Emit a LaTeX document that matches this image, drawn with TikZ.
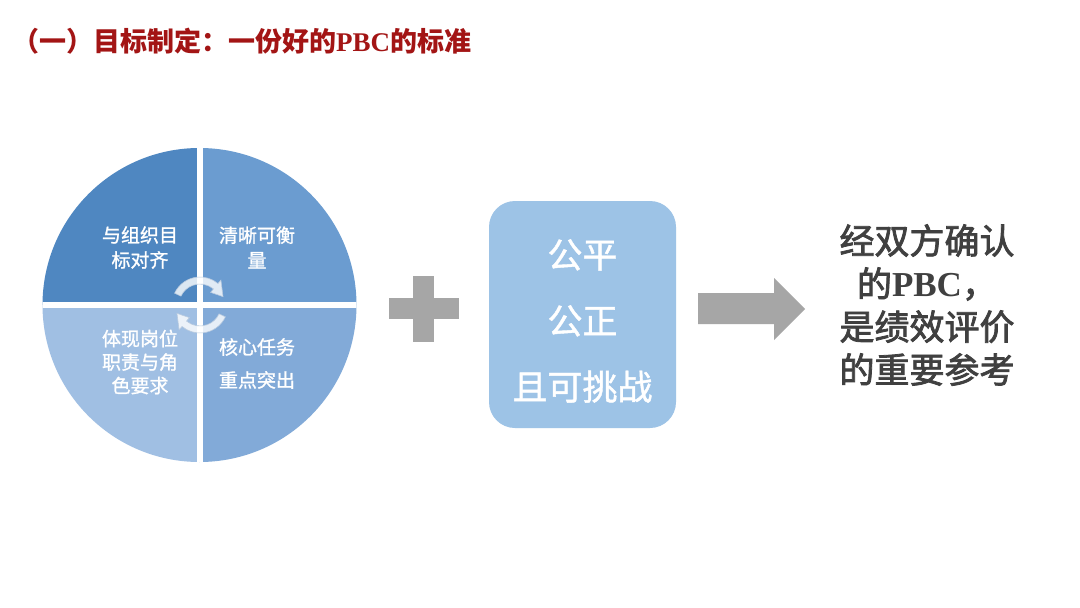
\documentclass[tikz,border=0pt]{standalone}
\usepackage{fontspec}
\setmainfont{Liberation Serif}
\newfontfamily\cjk{Noto Sans CJK SC}
\newfontfamily\cjkmed{Noto Sans CJK SC}[FakeBold=1.2]
\newfontfamily\cjkheavy{Noto Sans CJK SC}[FakeBold=2.2]
\newfontfamily\tnr{Liberation Serif}
\definecolor{titlered}{HTML}{A31515}
\definecolor{qone}{HTML}{4F87C1}
\definecolor{qtwo}{HTML}{6B9CD0}
\definecolor{qthree}{HTML}{82AAD8}
\definecolor{qfour}{HTML}{A0BFE3}
\definecolor{boxblue}{HTML}{9DC3E6}
\definecolor{signgray}{HTML}{A6A6A6}
\definecolor{darktext}{HTML}{404040}
\definecolor{arcedge}{HTML}{B8CADF}
\tikzset{
  quadtext/.style={text=white, align=center, font=\cjkmed\fontsize{19}{25}\selectfont, inner sep=0pt},
  boxtext/.style={text=white, align=center, font=\cjkmed\fontsize{35}{66}\selectfont, inner sep=0pt},
  cyclearrow/.style={fill=white, fill opacity=0.8, draw=arcedge, line width=0.6pt},
  graysign/.style={fill=signgray}
}
\begin{document}
\begin{tikzpicture}[x=1pt,y=-1pt]
\useasboundingbox (0,0) rectangle (1080,608);
\fill[white] (0,0) rectangle (1080,608);

% title
\node[anchor=west, text=titlered, inner sep=0pt, font=\cjk\bfseries\fontsize{27}{31}\selectfont] (title) at (12,41)
  {（一）目标制定：一份好的{\tnr\bfseries PBC}的标准};

% circle quadrants
\begin{scope}
  \clip (199.5,305) circle[radius=157];
  \fill[qone] (40,140) rectangle (200,305);
  \fill[qtwo] (200,140) rectangle (360,305);
  \fill[qthree] (200,305) rectangle (360,470);
  \fill[qfour] (40,305) rectangle (200,470);
  \draw[white, line width=6.5pt] (200,140) -- (200,470);
  \draw[white, line width=6.5pt] (40,305) -- (360,305);
\end{scope}

\node[quadtext] (qa) at (140,247.5) {与组织目\\标对齐};
\node[quadtext] (qb) at (257,247.5) {清晰可衡\\量};
\node[quadtext, font=\cjkmed\fontsize{19}{23.5}\selectfont] (qd) at (140,362) {体现岗位\\职责与角\\色要求};
\node[quadtext, font=\cjkmed\fontsize{19}{33}\selectfont] (qc) at (257,363.5) {核心任务\\重点突出};

% cycle arrows
\begin{scope}[shift={(200,305)}, yscale=-1]
  \path[cyclearrow] (155:28) arc[start angle=155, end angle=50, radius=28] -- (50:32.5)
     -- (20:24.5) -- (50:16.5) -- (50:21) arc[start angle=50, end angle=155, radius=21] -- cycle;
  \begin{scope}[rotate=180]
  \path[cyclearrow] (155:28) arc[start angle=155, end angle=50, radius=28] -- (50:32.5)
     -- (20:24.5) -- (50:16.5) -- (50:21) arc[start angle=50, end angle=155, radius=21] -- cycle;
  \end{scope}
\end{scope}

% plus sign
\fill[graysign] (389,298) rectangle (459,319);
\fill[graysign] (413,276) rectangle (434,342);

% middle box
\node[fill=boxblue, rounded corners=26pt, minimum width=187pt, minimum height=227pt, inner sep=0pt] (box) at (582.5,314.5) {};
\node[boxtext] (boxt) at (582.5,321) {公平\\公正\\且可挑战};

% block arrow
\fill[graysign] (698,293) -- (774,293) -- (774,278) -- (805,309) -- (774,340) -- (774,324) -- (698,324) -- cycle;

% result text
\node[text=darktext, align=center, inner sep=0pt, font=\cjkheavy\fontsize{35}{43}\selectfont] (result) at (927,305)
  {经双方确认\\的{\tnr\bfseries PBC}，\\是绩效评价\\的重要参考};
\end{tikzpicture}
\end{document}
